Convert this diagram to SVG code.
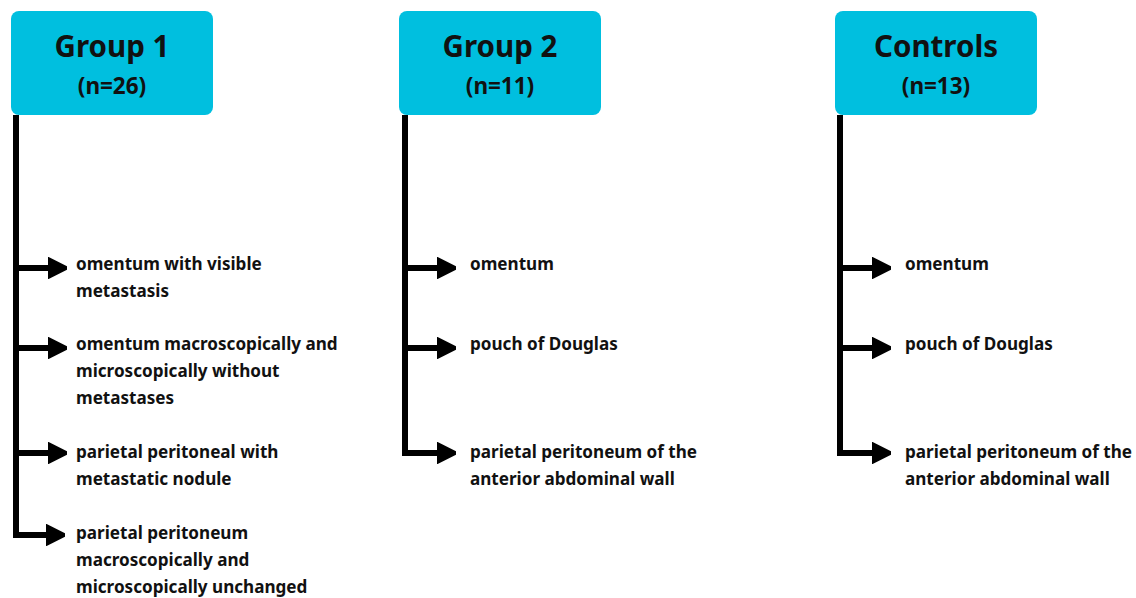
<svg xmlns="http://www.w3.org/2000/svg" width="1136" height="598" viewBox="0 0 1136 598">
<style>
.box{fill:#00BFDF}
.title{font-family:"Noto Sans","Open Sans",sans-serif;font-weight:bold;font-size:29.5px;fill:#111;text-anchor:middle}
.n{font-family:"Noto Sans","Open Sans",sans-serif;font-weight:bold;font-size:22.5px;fill:#111;text-anchor:middle}
.lbl{font-family:"Noto Sans","Open Sans",sans-serif;font-weight:bold;font-size:17.1px;fill:#111}
.ln{fill:none;stroke:#000;stroke-width:6}
</style>
<defs>
<marker id="ah" viewBox="0 0 10 10" refX="0" refY="5" markerWidth="3.2" markerHeight="4" orient="auto" markerUnits="strokeWidth">
<path d="M0,0 L10,5 L0,10 z" fill="#000" stroke="#000" stroke-linejoin="round" stroke-width="1.5"/>
</marker>
</defs>
<g id="connectors">
<path class="ln" d="M16,115 V535"/>
<path class="ln" d="M16,268 H48" marker-end="url(#ah)"/>
<path class="ln" d="M16,348 H48" marker-end="url(#ah)"/>
<path class="ln" d="M16,453 H48" marker-end="url(#ah)"/>
<path class="ln" d="M13,535 H46" marker-end="url(#ah)"/>
<path class="ln" d="M405,115 V453"/>
<path class="ln" d="M405,268 H437" marker-end="url(#ah)"/>
<path class="ln" d="M405,348 H437" marker-end="url(#ah)"/>
<path class="ln" d="M402,453 H437" marker-end="url(#ah)"/>
<path class="ln" d="M840,115 V453"/>
<path class="ln" d="M840,268 H872" marker-end="url(#ah)"/>
<path class="ln" d="M840,348 H872" marker-end="url(#ah)"/>
<path class="ln" d="M837,453 H872" marker-end="url(#ah)"/>
</g>
<g id="group1">
<rect class="box" x="11" y="11" width="202" height="104" rx="8"/>
<text class="title" x="112" y="57">Group 1</text>
<text class="n" x="112" y="94">(n=26)</text>
</g>
<g id="group2">
<rect class="box" x="399" y="11" width="202" height="104" rx="8"/>
<text class="title" x="500" y="57">Group 2</text>
<text class="n" x="500" y="94">(n=11)</text>
</g>
<g id="controls">
<rect class="box" x="835" y="11" width="202" height="104" rx="8"/>
<text class="title" x="936" y="57">Controls</text>
<text class="n" x="936" y="94">(n=13)</text>
</g>
<g id="g1-items">
<text class="lbl" x="76" y="270">omentum with visible</text>
<text class="lbl" x="76" y="297">metastasis</text>
<text class="lbl" x="76" y="350">omentum macroscopically and</text>
<text class="lbl" x="76" y="377">microscopically without</text>
<text class="lbl" x="76" y="404">metastases</text>
<text class="lbl" x="76" y="458">parietal peritoneal with</text>
<text class="lbl" x="76" y="485">metastatic nodule</text>
<text class="lbl" x="76" y="539">parietal peritoneum</text>
<text class="lbl" x="76" y="566">macroscopically and</text>
<text class="lbl" x="76" y="593">microscopically unchanged</text>
</g>
<g id="g2-items">
<text class="lbl" x="470" y="270">omentum</text>
<text class="lbl" x="470" y="350">pouch of Douglas</text>
<text class="lbl" x="470" y="458">parietal peritoneum of the</text>
<text class="lbl" x="470" y="485">anterior abdominal wall</text>
</g>
<g id="c-items">
<text class="lbl" x="905" y="270">omentum</text>
<text class="lbl" x="905" y="350">pouch of Douglas</text>
<text class="lbl" x="905" y="458">parietal peritoneum of the</text>
<text class="lbl" x="905" y="485">anterior abdominal wall</text>
</g>
</svg>
